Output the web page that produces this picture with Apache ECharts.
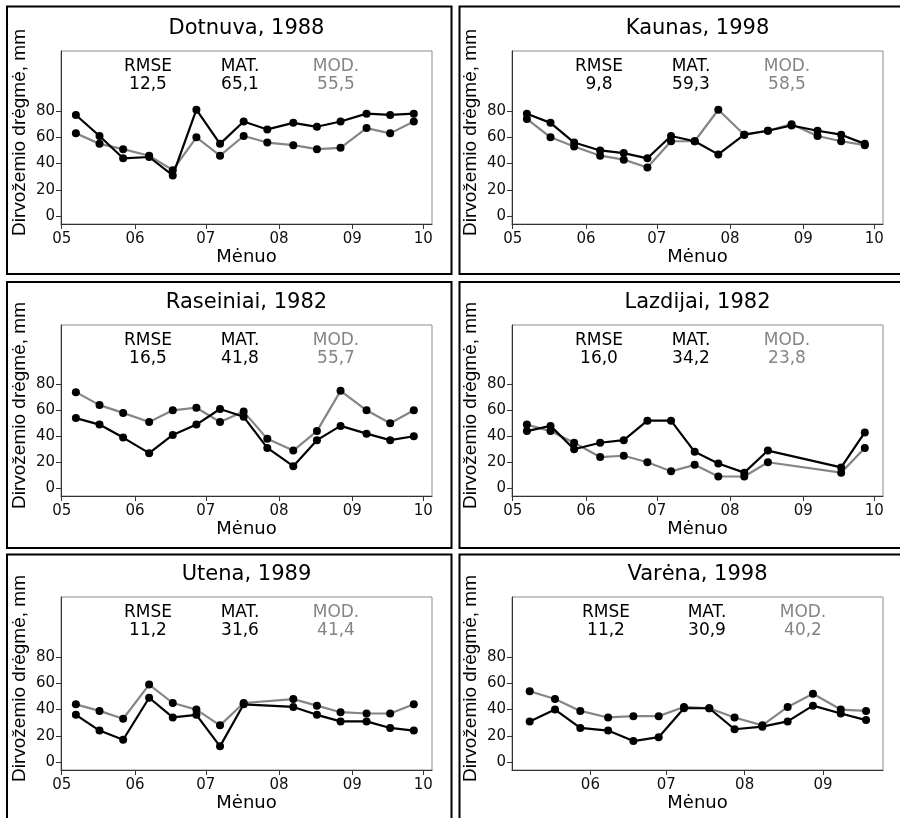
<!DOCTYPE html>
<html><head><meta charset="utf-8">
<script src="https://cdn.jsdelivr.net/npm/echarts@6/dist/echarts.min.js"></script>
<style>html,body{margin:0;padding:0;background:#fff}#c{width:900px;height:818px}</style>
</head><body><div id="c"></div>
<script>
// ---------- data ----------
const monthLabels = ['05', '06', '07', '08', '09', '10'];
const monthLabelsVarena = ['06', '07', '08', '09'];
const yTicks = [0, 20, 40, 60, 80];

const titles = ['Dotnuva, 1988', 'Kaunas, 1998', 'Raseiniai, 1982', 'Lazdijai, 1982', 'Utena, 1989', 'Varėna, 1998'];
const rmseVals = ['12,5', '9,8', '16,5', '16,0', '11,2', '11,2'];
const matMeans = ['65,1', '59,3', '41,8', '34,2', '31,6', '30,9'];
const modMeans = ['55,5', '58,5', '55,7', '23,8', '41,4', '40,2'];

const datesMain = ['05-07','05-17','05-27','06-07','06-17','06-27','07-07','07-17','07-27','08-07','08-17','08-27','09-07','09-17','09-27'];
const datesLazdijai = ['05-07','05-17','05-27','06-07','06-17','06-27','07-07','07-17','07-27','08-07','08-17','09-17','09-27'];
const datesUtena = ['05-07','05-17','05-27','06-07','06-17','06-27','07-07','07-17','08-07','08-17','08-27','09-07','09-17','09-27'];
const datesVarena = ['05-08','05-18','05-28','06-08','06-18','06-28','07-08','07-18','07-28','08-08','08-18','08-28','09-08','09-18'];

const dotnuvaMat = [77, 61, 44, 45, 31, 81, 55, 72, 66, 71, 68, 72, 78, 77, 78];
const dotnuvaMod = [63, 55, 51, 46, 35, 60, 46, 61, 56, 54, 51, 52, 67, 63, 72];
const kaunasMat = [78, 71, 56, 50, 48, 44, 61, 57, 47, 62, 65, 69, 65, 62, 55];
const kaunasMod = [74, 60, 53, 46, 43, 37, 57, 57, 81, 62, 65, 70, 61, 57, 54];
const raseiniaiMat = [54, 49, 39, 27, 41, 49, 61, 55, 31, 17, 37, 48, 42, 37, 40];
const raseiniaiMod = [74, 64, 58, 51, 60, 62, 51, 59, 38, 29, 44, 75, 60, 50, 60];
const lazdijaiMat = [44, 48, 30, 35, 37, 52, 52, 28, 19, 12, 29, 16, 43];
const lazdijaiMod = [49, 44, 35, 24, 25, 20, 13, 18, 9, 9, 20, 12, 31];
const utenaMat = [36, 24, 17, 49, 34, 36, 12, 44, 42, 36, 31, 31, 26, 24];
const utenaMod = [44, 39, 33, 59, 45, 40, 28, 45, 48, 43, 38, 37, 37, 44];
const varenaMat = [31, 40, 26, 24, 16, 19, 41, 41, 25, 27, 31, 43, 37, 32];
const varenaMod = [54, 48, 39, 34, 35, 35, 42, 41, 34, 28, 42, 52, 40, 39];

// ---------- helpers ----------
const monthStart = {5: 0, 6: 31, 7: 61, 8: 92, 9: 123, 10: 153}; // days since 1 May
function toDay(s) { const p = s.split('-').map(Number); return monthStart[p[0]] + p[1] - 1; }
function monthDay(lbl) { return monthStart[Number(lbl)]; }
function zip(dates, vals) { return dates.map((d, i) => [toDay(d), vals[i]]); }

const panelData = [
  {dates: datesMain, mat: dotnuvaMat, mod: dotnuvaMod, ticks: monthLabels},
  {dates: datesMain, mat: kaunasMat, mod: kaunasMod, ticks: monthLabels},
  {dates: datesMain, mat: raseiniaiMat, mod: raseiniaiMod, ticks: monthLabels},
  {dates: datesLazdijai, mat: lazdijaiMat, mod: lazdijaiMod, ticks: monthLabels},
  {dates: datesUtena, mat: utenaMat, mod: utenaMod, ticks: monthLabels},
  {dates: datesVarena, mat: varenaMat, mod: varenaMod, ticks: monthLabelsVarena}
];

// ---------- layout ----------
const gridLeft = [61, 512, 61, 512, 61, 512];
const gridTop = [51, 51, 325, 325, 597, 597];
const gridH = [173, 173, 171, 171, 173, 173];
const gridW = 371;
const xMin = [-0.3, -0.3, -0.3, -0.3, -0.3, 0];
const xMax = [156.7, 156.7, 156.7, 156.7, 156.7, 146.7];
const statOff = [[87, 179, 275], [87, 179, 275], [87, 179, 275], [87, 179, 275], [87, 179, 275], [94, 195, 291]];
const panelX = [7, 459.5, 7, 459.5, 7, 459.5];
const panelY = [6.5, 6.5, 282, 282, 554.5, 554.5];
const panelW = 444.5;
const panelHt = [267.5, 267.5, 266, 266, 266, 266];

const FONT = '"DejaVu Sans", sans-serif';
const GRAY = '#858585';

const grids = [], xAxes = [], yAxes = [], series = [], graphics = [];
panelData.forEach((p, i) => {
  grids.push({left: gridLeft[i], top: gridTop[i], width: gridW, height: gridH[i], show: true,
    borderColor: '#8c8c8c', borderWidth: 1, backgroundColor: 'transparent'});
  const tickVals = p.ticks.map(monthDay);
  xAxes.push({type: 'value', gridIndex: i, min: xMin[i], max: xMax[i],
    axisLine: {show: true, onZero: false, lineStyle: {color: '#333', width: 1}},
    axisTick: {show: true, length: 5, customValues: tickVals, lineStyle: {color: '#333', width: 1}},
    axisLabel: {customValues: tickVals, margin: 8, color: '#111', fontSize: 15, fontFamily: FONT,
      formatter: v => p.ticks[tickVals.indexOf(v)] || ''},
    splitLine: {show: false}});
  yAxes.push({type: 'value', gridIndex: i, min: -6, max: 125.7,
    axisLine: {show: true, onZero: false, lineStyle: {color: '#333', width: 1}},
    axisTick: {show: true, length: 5, customValues: yTicks, lineStyle: {color: '#333', width: 1}},
    axisLabel: {customValues: yTicks, margin: 6, color: '#111', fontSize: 15, fontFamily: FONT},
    splitLine: {show: false}});
  series.push({type: 'line', xAxisIndex: i, yAxisIndex: i, data: zip(p.dates, p.mod), z: 2,
    symbol: 'circle', symbolSize: 8, showSymbol: true, itemStyle: {color: '#000'},
    lineStyle: {color: GRAY, width: 2.2}, emphasis: {disabled: true}});
  series.push({type: 'line', xAxisIndex: i, yAxisIndex: i, data: zip(p.dates, p.mat), z: 3,
    symbol: 'circle', symbolSize: 8, showSymbol: true, itemStyle: {color: '#000'},
    lineStyle: {color: '#000', width: 2.2}, emphasis: {disabled: true}});

  const L = gridLeft[i], T = gridTop[i], H = gridH[i];
  const cx = L + gridW / 2;
  graphics.push({type: 'rect', shape: {x: panelX[i], y: panelY[i], width: panelW, height: panelHt[i]},
    style: {fill: 'none', stroke: '#000', lineWidth: 2}, silent: true});
  const txt = (x, y, s, size, color, fam, rot) => ({type: 'text', x: x, y: y, rotation: rot || 0, silent: true,
    style: {text: s, fill: color, font: size + 'px ' + (fam || FONT), textAlign: 'center', textVerticalAlign: 'middle',
      align: 'center', verticalAlign: 'middle'}});
  graphics.push(txt(cx, T - 22.5, titles[i], 21, '#000'));
  graphics.push(txt(L + statOff[i][0], T + 16, 'RMSE', 17, '#000'));
  graphics.push(txt(L + statOff[i][0], T + 33.5, rmseVals[i], 17, '#000'));
  graphics.push(txt(L + statOff[i][1], T + 16, 'MAT.', 17, '#000'));
  graphics.push(txt(L + statOff[i][1], T + 33.5, matMeans[i], 17, '#000'));
  graphics.push(txt(L + statOff[i][2], T + 16, 'MOD.', 17, GRAY));
  graphics.push(txt(L + statOff[i][2], T + 33.5, modMeans[i], 17, GRAY));
  graphics.push(txt(cx, T + H + 33, 'Mėnuo', 18, '#000'));
  graphics.push(txt(L - 41, T + H / 2 - 5, 'Dirvožemio drėgmė, mm', 19, '#000', '"Liberation Sans", Arial, sans-serif', Math.PI / 2));
});

const chart = echarts.init(document.getElementById('c'), null, {renderer: 'canvas'});
chart.setOption({
  backgroundColor: '#fff',
  animation: false,
  grid: grids, xAxis: xAxes, yAxis: yAxes, series: series,
  graphic: {elements: graphics}
});
</script></body></html>
